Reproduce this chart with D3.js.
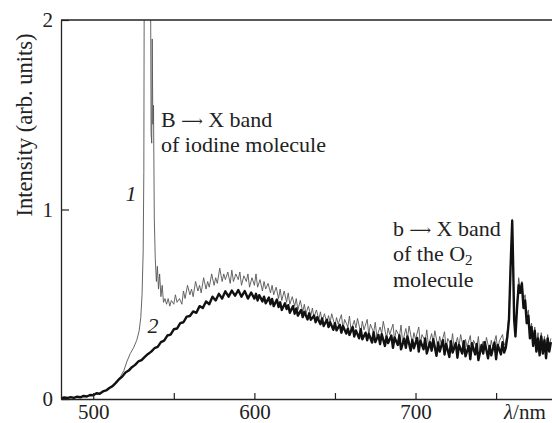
<!DOCTYPE html>
<html><head><meta charset="utf-8">
<script src="https://cdn.jsdelivr.net/npm/d3@7"></script>
<style>html,body{margin:0;padding:0;background:#fff}svg{display:block}</style>
</head><body><svg id="c" width="552" height="423"></svg>
<script>
// ---- data ----
const xTicks = [500, 550, 600, 650, 700, 750];
const xTickLabels = {500: "500", 600: "600", 700: "700"};
const yTicks = [0, 1, 2];
const yTickLabels = ["0", "1", "2"];
const yTitle = "Intensity (arb. units)";
const xTitle = "/nm";

// curve 2 (thick) [wavelength nm, intensity]
const curve2 = [
[480,0.004],[482,0.008],[484,0.005],[486,0.010],[488,0.006],[490,0.012],[492,0.009],[494,0.016],[496,0.013],[498,0.021],
[500,0.020],[502,0.030],[504,0.028],[506,0.040],[508,0.045],[510,0.058],[512,0.068],[514,0.085],[516,0.104],[518,0.118],
[520,0.140],[522,0.150],[524,0.168],[526,0.180],[528,0.198],[530,0.205],[532,0.222],[534,0.238],[536,0.250],[538,0.268],
[540,0.275],[542,0.300],[544,0.308],[546,0.335],[548,0.340],[550,0.368],[552,0.372],[554,0.400],[556,0.405],[558,0.435],
[560,0.438],[562,0.462],[564,0.455],[566,0.490],[568,0.480],[570,0.515],[572,0.500],[574,0.540],[576,0.520],[578,0.555],
[580,0.530],[582,0.568],[584,0.540],[586,0.572],[588,0.545],[590,0.575],[592,0.540],[594,0.570],[596,0.530],[598,0.562],
[600,0.530],[601,0.555],[602,0.520],[603,0.548],[605,0.515],[606,0.540],[607,0.505],[609,0.535],[610,0.500],[611,0.528],
[612,0.490],[614,0.525],[615,0.485],[616,0.510],[617,0.470],[619,0.505],[620,0.475],[621,0.495],[622,0.455],[624,0.490],
[625,0.450],[626,0.478],[627,0.440],[629,0.470],[630,0.432],[631,0.460],[633,0.420],[634,0.452],[635,0.418],[637,0.440],
[638,0.405],[639,0.432],[641,0.395],[642,0.425],[643,0.385],[645,0.418],[646,0.380],[647,0.405],[649,0.365],[650,0.400],
[651,0.362],[653,0.392],[654,0.350],[655,0.385],[657,0.345],[658,0.372],[659,0.338],[661,0.380],[662,0.330],[663,0.362],
[665,0.320],[666,0.368],[667,0.315],[669,0.350],[670,0.310],[671,0.345],[673,0.298],[674,0.352],[675,0.300],[677,0.338],
[678,0.290],[679,0.342],[681,0.280],[682,0.330],[683,0.295],[685,0.335],[686,0.270],[687,0.325],[689,0.285],[690,0.335],
[691,0.262],[693,0.318],[694,0.270],[695,0.330],[697,0.255],[698,0.312],[699,0.268],[701,0.322],[702,0.250],[703,0.308],
[705,0.262],[706,0.320],[707,0.240],[709,0.300],[710,0.255],[711,0.315],[713,0.228],[714,0.298],[715,0.250],[717,0.310],
[718,0.235],[719,0.290],[721,0.222],[722,0.305],[723,0.245],[725,0.295],[726,0.218],[727,0.285],[729,0.240],[730,0.305],
[731,0.225],[733,0.280],[734,0.210],[735,0.295],[737,0.235],[738,0.290],[739,0.205],[741,0.285],[742,0.240],[743,0.300],
[745,0.215],[746,0.280],[747,0.230],[749,0.298],[750,0.210],[751,0.285],[753,0.235],[754,0.300],[755,0.245],[756,0.270],
[757,0.330],[758,0.420],[759,0.700],[760,0.940],[760.6,0.700],[761.2,0.420],[762,0.330],[763,0.480],[764,0.600],[765,0.560],
[766,0.610],[767,0.480],[768,0.520],[769,0.400],[770,0.440],[771,0.320],[772,0.380],[773,0.280],[774,0.360],[775,0.250],
[776,0.320],[777,0.230],[778,0.330],[779,0.240],[780,0.310],[781,0.215],[782,0.320],[783,0.250],[784,0.300]
];

// curve 1 (thin) [wavelength nm, intensity]
const curve1 = [
[480,0.005],[484,0.007],[488,0.008],[492,0.011],[496,0.015],[500,0.022],[504,0.030],[508,0.046],[512,0.070],[514,0.088],
[516,0.108],[517,0.120],[519,0.150],[521,0.200],[523,0.240],[525,0.270],[527,0.310],[528.5,0.360],[529.5,0.430],[530.3,0.550],
[531,0.780],[531.4,1.200],[531.7,2.400],[535.5,2.400],[535.9,1.400],[536.3,1.350],[536.6,1.900],[537.0,1.450],[537.4,1.550],[537.9,0.950],
[538.5,0.740],[539.2,0.620],[539.8,0.700],[540.5,0.580],[541.2,0.660],[542,0.540],[542.8,0.600],[543.6,0.510],[544.5,0.530],[545.5,0.500],
[546.5,0.530],[547.5,0.490],[548.5,0.520],[550,0.500],[551,0.550],[552,0.510],[553.5,0.530],[555,0.500],[556,0.570],[557,0.530],
[558.5,0.600],[560,0.550],[561,0.580],[562,0.540],[563.5,0.620],[565,0.570],[566,0.600],[567,0.560],[568.5,0.640],[570,0.580],
[571,0.620],[572,0.590],[573.5,0.660],[575,0.600],[576,0.640],[577,0.610],[578.5,0.690],[580,0.620],[581,0.660],[582,0.630],
[583.5,0.670],[585,0.610],[586,0.680],[587,0.620],[588.5,0.660],[590,0.630],[591,0.670],[592,0.600],[593.5,0.650],[595,0.620],
[596,0.660],[597,0.590],[598.5,0.640],[600,0.600],[601,0.660],[602,0.590],[603.5,0.630],[605,0.570],[606,0.620],[607,0.580],
[608.5,0.610],[610,0.560],[611,0.600],[612,0.550],[613.5,0.590],[615,0.530],[616,0.580],[617,0.520],[618.5,0.570],[620,0.510],
[621,0.560],[622,0.500],[623.5,0.540],[625,0.490],[626,0.530],[627,0.470],[628.5,0.520],[630,0.460],[631,0.500],[632,0.450],
[633.5,0.490],[635,0.440],[636,0.480],[637,0.430],[638.5,0.470],[640,0.420],[641,0.460],[642,0.410],[643.5,0.450],[645,0.400],
[646,0.440],[647,0.405],[648,0.450],[650,0.385],[651,0.430],[652,0.395],[654,0.445],[655,0.370],[656,0.420],[658,0.380],
[659,0.438],[660,0.360],[662,0.415],[663,0.375],[664,0.425],[666,0.350],[667,0.410],[668,0.365],[670,0.420],[671,0.340],
[672,0.395],[674,0.350],[675,0.405],[676,0.330],[678,0.380],[679,0.345],[680,0.410],[682,0.320],[683,0.375],[684,0.340],
[686,0.395],[687,0.310],[688,0.365],[690,0.330],[691,0.390],[692,0.300],[694,0.372],[695,0.320],[696,0.385],[698,0.295],
[699,0.350],[700,0.315],[702,0.380],[703,0.290],[704,0.340],[706,0.305],[707,0.365],[708,0.280],[710,0.345],[711,0.300],
[712,0.360],[714,0.270],[715,0.330],[716,0.290],[718,0.355],[719,0.265],[720,0.320],[722,0.285],[723,0.345],[724,0.260],
[726,0.325],[727,0.280],[728,0.340],[730,0.255],[731,0.315],[732,0.275],[734,0.335],[735,0.250],[736,0.310],[738,0.270],
[739,0.330],[740,0.245],[742,0.305],[743,0.265],[744,0.325],[746,0.250],[747,0.310],[748,0.270],[750,0.335],[751,0.255],
[752,0.305],[754,0.340],[755,0.285],[756,0.300],[757,0.360],[758,0.450],[759,0.720],[760,0.950],[760.6,0.720],[761.2,0.450],
[762,0.360],[763,0.500],[764,0.640],[765,0.580],[766,0.620],[767,0.520],[768,0.550],[769,0.440],[770,0.470],[771,0.360],
[772,0.400],[773,0.310],[774,0.380],[775,0.280],[776,0.350],[777,0.260],[778,0.350],[779,0.270],[780,0.330],[781,0.250],
[782,0.340],[783,0.280],[784,0.320]
];

// ---- drawing ----
const FONT = '"Liberation Serif","Times New Roman",Times,"DejaVu Serif",serif';
const svg = d3.select("#c").attr("font-family", FONT);
const L = 61, R = 552.5, T = 20, B = 399;
const x = d3.scaleLinear().domain([480, 785]).range([L, R]);
const y = d3.scaleLinear().domain([0, 2]).range([B, T]);

svg.append("defs").append("clipPath").attr("id", "clip")
  .append("rect").attr("x", L).attr("y", T).attr("width", R - L).attr("height", B - T);

const line = d3.line().x(d => x(d[0])).y(d => y(d[1]));
const g = svg.append("g").attr("clip-path", "url(#clip)");
g.append("path").datum(curve1).attr("d", line)
  .attr("fill", "none").attr("stroke", "#555").attr("stroke-width", 0.9).attr("stroke-linejoin", "round");
g.append("path").datum(curve2).attr("d", line)
  .attr("fill", "none").attr("stroke", "#111").attr("stroke-width", 2.4).attr("stroke-linejoin", "round");

// axes
const xAxis = d3.axisBottom(x).tickValues(xTicks).tickSizeInner(-6).tickSizeOuter(0).tickFormat(d => xTickLabels[d] || "");
const gx = svg.append("g").attr("transform", `translate(0,${B})`).call(xAxis).attr("font-family", FONT);
gx.select(".domain").attr("stroke", "#222").attr("stroke-width", 1.3);
gx.selectAll(".tick line").attr("stroke", "#222").attr("stroke-width", 1.2);
gx.selectAll(".tick text").attr("y", 20).attr("dy", 0).attr("font-size", 21)
  .attr("font-family", FONT).attr("fill", "#222");

const yAxis = d3.axisLeft(y).tickValues(yTicks).tickSizeInner(-8).tickSizeOuter(0).tickFormat((d, i) => yTickLabels[i]);
const gy = svg.append("g").attr("transform", `translate(${L},0)`).call(yAxis).attr("font-family", FONT);
gy.select(".domain").attr("stroke", "#222").attr("stroke-width", 1.3);
gy.selectAll(".tick line").attr("stroke", "#222").attr("stroke-width", 1.2);
gy.selectAll(".tick text").attr("x", -8).attr("font-size", 21)
  .attr("font-family", FONT).attr("fill", "#222");

// top frame line
svg.append("line").attr("x1", L).attr("x2", R).attr("y1", T).attr("y2", T)
  .attr("stroke", "#222").attr("stroke-width", 1.3);

// axis titles
svg.append("text").attr("transform", `translate(32,125) rotate(-90)`)
  .attr("text-anchor", "middle").attr("font-size", 22.5).attr("fill", "#222").text(yTitle);
const xt = svg.append("text").attr("x", 504).attr("y", 419).attr("font-size", 21).attr("fill", "#222");
xt.append("tspan").attr("font-style", "italic").text("λ");
xt.append("tspan").text(xTitle);

// annotations
const ann = (tx, ty, s) => svg.append("text").attr("x", tx).attr("y", ty)
  .attr("font-size", 22).attr("fill", "#222").text(s);
const arrowLine = (tx, ty, a, b) => {
  const t = svg.append("text").attr("x", tx).attr("y", ty).attr("font-size", 22).attr("fill", "#222");
  t.append("tspan").text(a + " ");
  t.append("tspan").attr("font-size", 15).attr("dy", -1).text("⟶");
  t.append("tspan").attr("dy", 1).text(" " + b);
  return t;
};
arrowLine(161, 127, "B", "X band");
ann(161, 152, "of iodine molecule");
arrowLine(393, 236, "b", "X band");
const o2 = svg.append("text").attr("x", 393).attr("y", 261).attr("font-size", 22).attr("fill", "#222");
o2.append("tspan").text("of the O");
o2.append("tspan").attr("font-size", 15).attr("dy", 4).text("2");
ann(393, 287, "molecule");

svg.append("text").attr("x", 131).attr("y", 201).attr("text-anchor", "middle").attr("fill", "#222")
  .attr("font-size", 22).attr("font-style", "italic").text("1");
svg.append("text").attr("x", 153).attr("y", 333).attr("text-anchor", "middle").attr("fill", "#222")
  .attr("font-size", 22).attr("font-style", "italic").text("2");
</script></body></html>
